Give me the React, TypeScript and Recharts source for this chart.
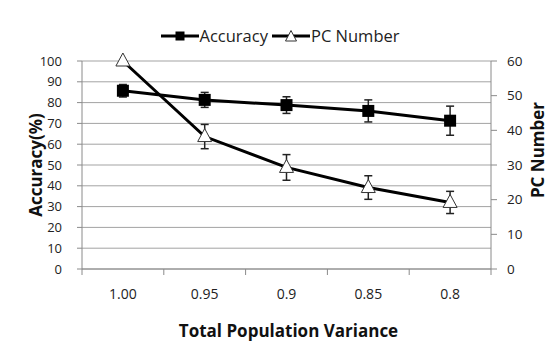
import { CartesianGrid, ErrorBar, Label, Line, LineChart, XAxis, YAxis } from 'recharts'

const CATEGORIES = ['1.00', '0.95', '0.9', '0.85', '0.8']
const ACCURACY = [85.7, 81.3, 78.8, 76.0, 71.3]
const ACCURACY_ERR = [3, 3.6, 4, 5.3, 7]
const PC_NUMBER = [60, 38.2, 29.3, 23.5, 19.2]
const PC_ERR = [0, 3.5, 3.7, 3.4, 3.2]
const LEFT_TICKS = [0, 10, 20, 30, 40, 50, 60, 70, 80, 90, 100]
const RIGHT_TICKS = [0, 10, 20, 30, 40, 50, 60]

const FONT = '"Open Sans", sans-serif'
const AXIS = '#8a8a8a'
const GRID = '#a3a3a3'
const TEXT = '#222'

const WIDTH = 548
const HEIGHT = 343
const MARGIN = { top: 53, right: 15, bottom: 12, left: 24 }
const Y_WIDTH = 50
const X_TICK_SIZE = 6
const X_TICK_MARGIN = 14
const PLOT_W = WIDTH - MARGIN.left - MARGIN.right - Y_WIDTH * 2
const BAND = PLOT_W / CATEGORIES.length

const data = CATEGORIES.map((label, i) => ({
  label,
  accuracy: ACCURACY[i],
  accuracyErr: ACCURACY_ERR[i],
  pc: PC_NUMBER[i],
  pcErr: PC_ERR[i],
}))

function CategoryTick(props: any) {
  const { x, y, payload, index, visibleTicksCount } = props
  const axisY = y - X_TICK_SIZE - X_TICK_MARGIN
  const left = x - BAND / 2
  const right = x + BAND / 2
  return (
    <g>
      <line x1={left} x2={left} y1={axisY} y2={axisY + X_TICK_SIZE} stroke={AXIS} />
      {index === visibleTicksCount - 1 && (
        <line x1={right} x2={right} y1={axisY} y2={axisY + X_TICK_SIZE} stroke={AXIS} />
      )}
      <text x={x} y={y} dy="0.71em" textAnchor="middle" fill={TEXT} fontSize={14} fontFamily={FONT}>
        {payload.value}
      </text>
    </g>
  )
}

function SquareDot(props: any) {
  const { cx, cy, index } = props
  if (cx == null || cy == null) return <g key={`sq-${index}`} />
  return <rect key={`sq-${index}`} x={cx - 6} y={cy - 6} width={12} height={12} fill="#000" />
}

function TriangleDot(props: any) {
  const { cx, cy, index } = props
  if (cx == null || cy == null) return <g key={`tr-${index}`} />
  return (
    <polygon
      key={`tr-${index}`}
      points={`${cx},${cy - 8} ${cx - 7},${cy + 5} ${cx + 7},${cy + 5}`}
      fill="#fff"
      stroke="#333"
      strokeWidth={1}
    />
  )
}

function title(text: string, place: 'left' | 'right' | 'bottom') {
  return (props: any) => {
    const vb = props.viewBox
    if (!vb) return null
    const style = { fontFamily: FONT, fontSize: 17, fontWeight: 700, fill: '#111' }
    if (place === 'bottom') {
      const x = vb.x + vb.width / 2 + 2
      const y = vb.y + 61
      return (
        <text x={x} y={y} textAnchor="middle" dominantBaseline="central" style={style}>
          {text}
        </text>
      )
    }
    const x = place === 'left' ? vb.x + 3 : vb.x + 46
    const y = vb.y + vb.height / 2 + (place === 'right' ? -15 : 0)
    return (
      <text
        x={x}
        y={y}
        textAnchor="middle"
        dominantBaseline="central"
        transform={`rotate(-90 ${x} ${y})`}
        style={style}
      >
        {text}
      </text>
    )
  }
}

function LegendItem({ label, marker }: { label: string; marker: 'square' | 'triangle' }) {
  return (
    <span style={{ display: 'inline-flex', alignItems: 'center', marginRight: 4 }}>
      <svg width={38} height={14}>
        <line x1={0} x2={38} y1={7} y2={7} stroke="#000" strokeWidth={3} />
        {marker === 'square' ? (
          <rect x={14.5} y={2.5} width={9} height={9} fill="#000" />
        ) : (
          <polygon points="19,1.5 13.5,12 24.5,12" fill="#fff" stroke="#333" strokeWidth={1} />
        )}
      </svg>
      <span style={{ fontFamily: FONT, fontSize: 16.5, color: TEXT, marginLeft: 1 }}>{label}</span>
    </span>
  )
}

export default function App() {
  return (
    <div
      style={{
        position: 'relative',
        width: WIDTH,
        height: HEIGHT,
        marginLeft: -1,
        marginTop: -1,
        borderLeft: `1px solid ${AXIS}`,
        borderTop: `1px solid ${AXIS}`,
        background: '#fff',
      }}
    >
      <div
        style={{
          position: 'absolute',
          top: 17,
          left: 0,
          width: WIDTH,
          display: 'flex',
          justifyContent: 'center',
          lineHeight: '22px',
        }}
      >
        <LegendItem label="Accuracy" marker="square" />
        <LegendItem label="PC Number" marker="triangle" />
      </div>
      <LineChart width={WIDTH} height={HEIGHT} data={data} margin={MARGIN}>
        <CartesianGrid yAxisId="left" vertical={false} stroke={GRID} />
        <XAxis
          dataKey="label"
          stroke={AXIS}
          height={70}
          padding={{ left: BAND / 2, right: BAND / 2 }}
          tickLine={false}
          tickSize={X_TICK_SIZE}
          tickMargin={X_TICK_MARGIN}
          tick={<CategoryTick />}
          interval={0}
        >
          <Label content={title('Total Population Variance', 'bottom')} />
        </XAxis>
        <YAxis
          yAxisId="left"
          domain={[0, 100]}
          ticks={LEFT_TICKS}
          interval={0}
          width={Y_WIDTH}
          stroke={AXIS}
          tickSize={5}
          tickMargin={15}
          tick={{ fill: TEXT, fontSize: 13, fontFamily: FONT }}
        >
          <Label content={title('Accuracy(%)', 'left')} />
        </YAxis>
        <YAxis
          yAxisId="right"
          orientation="right"
          domain={[0, 60]}
          ticks={RIGHT_TICKS}
          interval={0}
          width={Y_WIDTH}
          stroke={AXIS}
          tickSize={6}
          tickMargin={10}
          tick={{ fill: TEXT, fontSize: 13.5, fontFamily: FONT }}
        >
          <Label content={title('PC Number', 'right')} />
        </YAxis>
        <Line
          yAxisId="left"
          dataKey="accuracy"
          stroke="#000"
          strokeWidth={3}
          dot={SquareDot}
          activeDot={false}
          isAnimationActive={false}
        >
          <ErrorBar dataKey="accuracyErr" width={4} stroke="#222" strokeWidth={1.5} direction="y" />
        </Line>
        <Line
          yAxisId="right"
          dataKey="pc"
          stroke="#000"
          strokeWidth={3}
          dot={TriangleDot}
          activeDot={false}
          isAnimationActive={false}
        >
          <ErrorBar dataKey="pcErr" width={4} stroke="#222" strokeWidth={1.5} direction="y" />
        </Line>
      </LineChart>
    </div>
  )
}
